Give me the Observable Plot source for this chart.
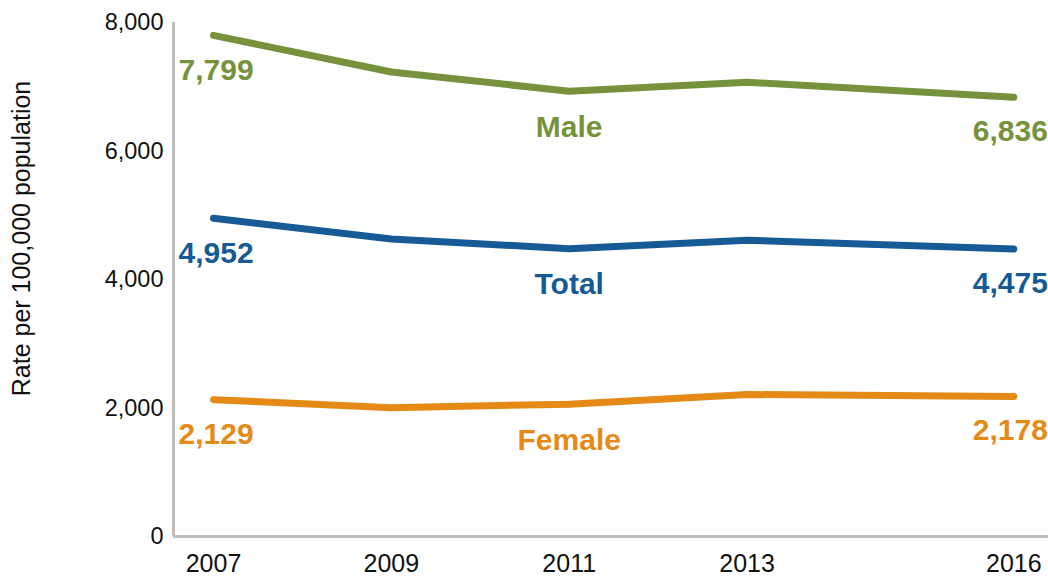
<!DOCTYPE html>
<html>
<head>
<meta charset="utf-8">
<script src="https://cdn.jsdelivr.net/npm/d3@7"></script>
<script src="https://cdn.jsdelivr.net/npm/@observablehq/plot@0.6"></script>
<style>
  html, body { margin: 0; padding: 0; background: #fff; }
  svg { display: block; }
</style>
</head>
<body>
<div id="chart"></div>
<script>
const years = [2007, 2009, 2011, 2013, 2016];
const maleValues = [7799, 7230, 6930, 7070, 6836];
const totalValues = [4952, 4630, 4480, 4610, 4475];
const femaleValues = [2129, 2005, 2060, 2210, 2178];
const seriesNames = ["Male", "Total", "Female"];
const seriesColors = ["#76923c", "#165a96", "#e68a17"];
const xTicks = [2007, 2009, 2011, 2013, 2016];
const yTicks = [0, 2000, 4000, 6000, 8000];
const yLabel = "Rate per 100,000 population";

const seriesValues = [maleValues, totalValues, femaleValues];
const data = seriesNames.flatMap((s, i) =>
  years.map((yr, j) => ({series: s, year: yr, value: seriesValues[i][j]}))
);
const firsts = data.filter(d => d.year === years[0]);
const lasts = data.filter(d => d.year === years[years.length - 1]);
const mids = data.filter(d => d.year === 2011);
const fmt = d3.format(",");
const xDomain = [2006.55, 2016.39];

const chart = Plot.plot({
  width: 1048,
  height: 581,
  marginLeft: 173,
  marginRight: 0,
  marginTop: 22,
  marginBottom: 45,
  style: {fontFamily: "Liberation Sans, Arial, sans-serif", background: "#fff", overflow: "visible"},
  x: {domain: xDomain, ticks: xTicks, tickFormat: d => String(d)},
  y: {domain: [0, 8000], ticks: yTicks, tickFormat: fmt},
  color: {domain: seriesNames, range: seriesColors},
  marks: [
    Plot.axisX({ticks: xTicks, tickFormat: d => String(d), tickSize: 0, tickPadding: 18, fontSize: 25, fill: "#111", label: null}),
    Plot.axisY({ticks: yTicks, tickFormat: fmt, tickSize: 0, tickPadding: 10, fontSize: 23.5, fill: "#111", label: null}),
    Plot.text([yLabel], {frameAnchor: "left", textAnchor: "middle", rotate: -90, dx: -152, dy: -41, fontSize: 25, fill: "#111"}),
    Plot.ruleX([xDomain[0]], {stroke: "#bfbfbf", strokeWidth: 3}),
    Plot.ruleY([0], {stroke: "#bfbfbf", strokeWidth: 3}),
    Plot.line(data, {x: "year", y: "value", z: "series", stroke: "series", strokeWidth: 7, strokeLinecap: "round", strokeLinejoin: "round"}),
    Plot.text(firsts, {x: "year", y: "value", text: d => fmt(d.value), fill: "series", textAnchor: "start", dx: -35, dy: 35, fontSize: 30, fontWeight: "bold"}),
    Plot.text(lasts, {x: "year", y: "value", text: d => fmt(d.value), fill: "series", textAnchor: "end", dx: 34, dy: 34, fontSize: 30, fontWeight: "bold"}),
    Plot.text(mids, {x: "year", y: "value", text: "series", fill: "series", dy: 36, fontSize: 30, fontWeight: "bold"})
  ]
});
document.getElementById("chart").appendChild(chart);
</script>
</body>
</html>
